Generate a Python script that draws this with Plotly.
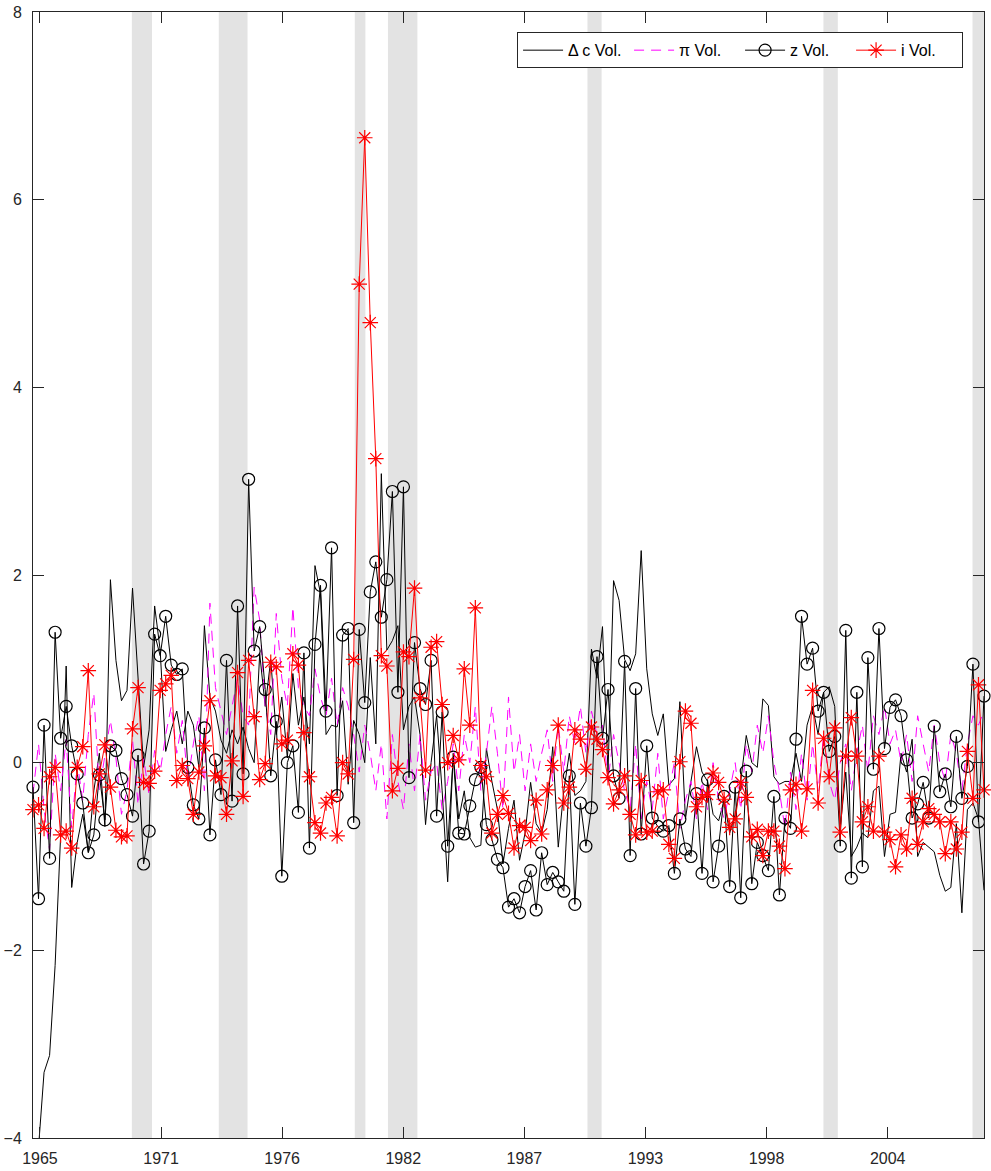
import plotly.graph_objects as go

# ---------------- data ----------------
start_year = 1965.5          # first quarter (1965Q3)
quarter = 0.25

dc_vol = [-5.5, -4.1, -3.3, -3.12, -2.16, -0.77, 1.03, -1.33, -0.85, -0.55,
          -0.95, -0.3, 0.1, -0.68, 1.95, 1.09, 0.66, 0.77, 1.86, 0.9,
          -0.05, 0.35, 1.67, 1.2, 0.12, 0.35, 0.55, 0.2, 0.55, 0.4,
          -0.05, 1.46, 0.7, 0.55, 0.24, 0.1, 0.35, 0.2, 0.38, 0.15,
          0.0, 1.16, 0.6, 1.1, 0.3, 0.7, 0.05, 0.95, 0.4, 0.7,
          0.2, 2.10, 1.8, 0.3, 0.4, 0.38, 0.66, -0.23, 0.45, 0.3,
          0.0, 1.12, 0.2, 3.08, 1.2, 1.3, 1.46, 0.35, 0.6, 0.7,
          0.3, -0.66, 0.0, 0.5, -0.3, -1.27, 0.1, -0.6, -0.3, -0.8,
          -0.9, -0.88, 0.15, -0.2, -0.5, -1.08, -0.7, -0.4, -1.04, -0.75,
          -0.21, -0.65, -0.75, -0.5, 0.17, -0.9, -0.3, 0.1, -0.35, -0.3,
          -0.2, 1.21, 0.9, 1.45, -0.1, 1.94, 1.73, 1.1, 0.98, 1.16,
          2.26, 1.0, 0.52, 0.29, 0.52, -0.24, -0.17, 0.65, -0.6, -0.2,
          0.17, -0.1, -0.2, -0.55, -0.62, -0.4, -0.75, -0.55, -0.2, 0.29,
          0.0, -0.05, 0.68, 0.61, -0.15, -0.23, -0.2, -0.2, 0.1, -0.2,
          0.4, 0.6, 0.3, 0.75, 0.81, 0.6, -0.7, -0.1, -1.0, -0.9,
          -0.75, -0.8, -0.3, -0.25, -1.0, -0.55, -0.53, 0.1, -0.1, 0.25,
          -1.0, -0.85, -0.9, -0.95, -1.2, -1.37, -1.33, -0.65, -1.60, -0.5,
          -0.43, -0.6, -1.36]

pi_vol = [-0.33, 0.2, -0.5, -0.93, 0.1, -0.3, 0.25, -0.7, 0.0, -0.4,
          0.3, 0.74, -0.3, 0.1, 0.45, 0.05, -0.55, -0.3, 0.25, -0.45,
          0.05, -0.35, 0.13, -0.1, 0.3,
          0.6, 0.1, 0.45, -0.2, 0.2, 0.5, -0.3, 1.70, 0.8, 0.55,
          0.3, 0.6, 0.9, 0.5, 0.4, 1.87, 1.52, 0.6, 0.3, 1.59,
          0.9, 0.6, 1.66, 0.8, 0.6, 0.5, 1.0, 0.7, 0.5,
          0.9, 0.4, 0.8, 0.6, 0.3, -0.1, 0.4, 0.1, -0.3, 0.2,
          -0.6, 0.3, -0.2, -0.5, 0.2, -0.3, 0.3, -0.4, -0.1, 0.0,
          -0.5, -0.2, 0.2, -0.3, 0.3, 0.0, 0.6, -0.3, 0.1,
          0.6, 0.1, -0.5, 0.7, -0.1, 0.3, -0.3, 0.2, -0.2, 0.1,
          0.35, -0.2, 0.4, -0.1, 0.5, 0.2, 0.6, 0.1, 0.55, 0.3,
          0.4, -0.2, 0.3, 0.0, -0.3, -0.5, 0.2, -0.6, -0.2,
          -0.5, 0.1, -0.6, -0.3, 0.0, -0.7, -0.4, -0.2, -0.6, -0.2,
          -0.5, 0.0, -0.4, -0.6, -0.3, 0.0, -0.5, 0.2, -0.1, 0.4,
          0.1, 0.5, 0.0, -0.3, -0.7, -0.1, -0.5, 0.1, -0.4,
          0.2, -0.3, 0.3, -0.2, -0.4, 0.0, 0.2, -0.3, 0.1, 0.4,
          -0.1, 0.5, 0.3, 0.6, 0.2, 0.35, 0.0, 0.3, -0.2, 0.5,
          0.2, -0.1, 0.4, 0.0, -0.2, 0.3, 0.1, -0.3, 0.2, 0.5,
          0.4, 0.55]

z_vol = [-0.26, -1.45, 0.40, -1.02, 1.39, 0.26, 0.60, 0.18, -0.12, -0.43,
         -0.96, -0.77, -0.13, -0.61, 0.18, 0.13, -0.17, -0.34, -0.57, 0.08,
         -1.08, -0.73, 1.37, 1.14, 1.56, 1.04, 0.94, 1.00, -0.05, -0.45,
         -0.60, 0.37, -0.77, 0.03, -0.34, 1.09, -0.41, 1.67, -0.12, 3.02,
         1.19, 1.45, 0.78, -0.14, 0.44, -1.21, 0.00, 0.18, -0.53, 1.17,
         -0.91, 1.26, 1.89, 0.55, 2.29, -0.35, 1.36, 1.43, -0.64, 1.42,
         0.64, 1.82, 2.14, 1.55, 1.95, 2.89, 0.75, 2.94, -0.16, 1.28,
         0.79, 0.62, 1.09, -0.57, 0.54, -0.89, 0.06, -0.75, -0.76, -0.46,
         -0.18, -0.05, -0.66, -0.82, -1.03, -1.12, -1.54, -1.45, -1.60, -1.32,
         -1.15, -1.57, -0.96, -1.30, -1.17, -1.27, -1.37, -0.14, -1.51, -0.43,
         -0.89, -0.48, 1.13, 0.26, 0.78, -0.14, -0.38, 1.08, -0.99, 0.79,
         -0.76, 0.18, -0.59, -0.68, -0.73, -0.67, -1.18, -0.60, -0.92, -1.00,
         -0.33, -1.18, -0.18, -1.27, -0.89, -0.36, -1.32, -0.26, -1.44, -0.09,
         -1.29, -0.85, -0.99, -1.15, -0.36, -1.41, -0.59, -0.70, 0.25, 1.56,
         1.05, 1.22, 0.55, 0.75, 0.12, 0.28, -0.89, 1.41, -1.23, 0.75,
         -1.11, 1.12, -0.07, 1.43, 0.15, 0.59, 0.67, 0.50, 0.03, -0.59,
         -0.44, -0.21, -0.59, 0.39, -0.31, -0.12, -0.47, 0.28, -0.38, -0.04,
         1.05, -0.63, 0.71]

i_vol = [-0.50, -0.45, -0.70, -0.15, -0.05, -0.77, -0.73, -0.91, -0.05, 0.17,
         0.98, -0.47, -0.12, 0.19, -0.26, -0.72, -0.79, -0.78, 0.36, 0.80,
         -0.21, -0.22, -0.09, 0.77, 0.84, 0.93, -0.19, -0.03, -0.17, -0.55,
         -0.10, 0.18, 0.66, -0.14, -0.16, -0.55, 0.02, 0.96, -0.36, 1.09,
         0.49, -0.18, -0.01, 1.07, 1.02, 0.20, 0.24, 1.16, 1.04, 0.32,
         -0.15, -0.64, -0.75, -0.43, -0.37, -0.78, 0.00, -0.12, 1.10, 5.10,
         6.66, 4.69, 3.24, 1.14, 1.03, -0.30, -0.06, 1.18, 1.13, 1.86,
         0.69, -0.08, 1.23, 1.29, 0.62, 0.00, 0.29, 0.03, 1.00, 0.40,
         1.65, -0.03, -0.15, -0.75, -0.55, -0.35, -0.54, -0.91, -0.67, -0.69,
         -0.83, -0.40, -0.76, -0.29, -0.03, 0.40, -0.43, -0.26, 0.35, 0.25,
         -0.07, 0.38, 0.25, 0.14, -0.16, -0.44, -0.29, -0.14, -0.55, -0.77,
         -0.19, -0.74, -0.73, -0.31, -0.29, -0.87, -1.02, 0.01, 0.55, 0.42,
         -0.47, -0.37, -0.34, -0.11, -0.21, -0.39, -0.69, -0.60, -0.21, -0.37,
         -0.79, -0.71, -0.99, -0.73, -0.73, -0.89, -1.13, -0.29, -0.23, -0.73,
         -0.28, 0.77, -0.43, 0.26, -0.15, 0.37, -0.74, 0.07, 0.48, 0.07,
         -0.63, -0.47, -0.73, 0.07, -0.74, -0.82, -1.11, -0.77, -0.92, -0.38,
         -0.87, -0.63, -0.49, -0.55, -0.63, -0.97, -0.63, -0.92, -0.74, 0.12,
         -0.38, 0.83, -0.29]

# NBER recessions (decimal years, start / end)
recession_start = [1969.97, 1973.90, 1980.05, 1981.55, 1990.57, 2001.24, 2007.98]
recession_end = [1970.88, 1975.20, 1980.53, 1982.88, 1991.21, 2001.89, 2009.50]

# x-axis ticks (decimal years) and their labels
tick_vals = [1965.814, 1971.290, 1976.765, 1982.241, 1987.718, 1993.192, 1998.668, 2004.145]
tick_text = ["1965", "1971", "1976", "1982", "1987", "1993", "1998", "2004"]
y_ticks = [-4, -2, 0, 2, 4, 6, 8]

n = len(z_vol)
assert len(dc_vol) == n and len(pi_vol) == n and len(i_vol) == n
t = [start_year + quarter * k for k in range(n)]

# ---------------- figure ----------------
AX = "#262626"
FONT = "Liberation Sans, Arial, Helvetica, sans-serif"

fig = go.Figure()
fig.add_trace(go.Scatter(x=t, y=dc_vol, mode="lines", name="\u0394 c Vol.",
                         line=dict(color="black", width=1)))
fig.add_trace(go.Scatter(x=t, y=pi_vol, mode="lines", name="\u03c0 Vol.",
                         line=dict(color="#ff00ff", width=1, dash="10px,7px")))
fig.add_trace(go.Scatter(x=t, y=z_vol, mode="lines+markers", name="z Vol.",
                         line=dict(color="black", width=1),
                         marker=dict(symbol="circle-open", size=12, color="black",
                                     line=dict(width=1.2, color="black")),
                         cliponaxis=False))
fig.add_trace(go.Scatter(x=t, y=i_vol, mode="lines+markers", name="i Vol.",
                         line=dict(color="red", width=1),
                         marker=dict(symbol="asterisk-open", size=13, color="red",
                                     line=dict(width=1.2, color="red")),
                         cliponaxis=False))

for s, e in zip(recession_start, recession_end):
    fig.add_shape(type="rect", xref="x", yref="paper", x0=s, x1=e, y0=0, y1=1,
                  fillcolor="#e3e3e3", line=dict(width=0), layer="below")

fig.update_layout(
    width=991, height=1171,
    margin=dict(l=33, r=7, t=12, b=33, autoexpand=False),
    paper_bgcolor="white", plot_bgcolor="white",
    font=dict(family=FONT, color=AX, size=16),
    showlegend=True,
    legend=dict(orientation="h", x=0.978, xanchor="right", y=0.982, yanchor="top",
                bgcolor="white", bordercolor=AX, borderwidth=1,
                font=dict(size=16, color="black", family=FONT),
                entrywidth=56, entrywidthmode="pixels", itemwidth=40),
)
fig.update_xaxes(range=[t[0], t[-1]], tickvals=tick_vals, ticktext=tick_text,
                 automargin=False, ticklabelstandoff=6,
                 showgrid=False, zeroline=False, showline=True, linecolor=AX,
                 linewidth=1, mirror="ticks", ticks="inside", ticklen=11,
                 tickcolor=AX, tickwidth=1, tickfont=dict(size=16, color=AX))
fig.update_yaxes(range=[-4, 8], tickvals=y_ticks, showgrid=False, zeroline=False,
                 automargin=False, ticklabelstandoff=7,
                 showline=True, linecolor=AX, linewidth=1, mirror="ticks",
                 ticks="inside", ticklen=11, tickcolor=AX, tickwidth=1,
                 tickfont=dict(size=16, color=AX))

fig.write_html("out.html",
               config={"displayModeBar": False},
               post_script="document.body.style.margin='0px';"
                           "document.body.style.overflow='hidden';")
